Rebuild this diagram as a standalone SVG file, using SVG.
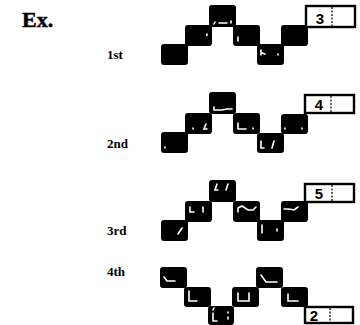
<svg xmlns="http://www.w3.org/2000/svg" width="360" height="325" viewBox="0 0 360 325">
<style>
.sq{fill:#000}
.mk{fill:none;stroke:#fff;stroke-width:1.6;stroke-linecap:round}
.box{fill:#fff;stroke:#000;stroke-width:2.4}
.div{stroke:#000;stroke-width:1.2;stroke-dasharray:2 1.5}
.num{font-family:"Liberation Sans",Arial,sans-serif;font-weight:bold;font-size:15px;text-anchor:middle;fill:#000}
.lbl{font-family:"Liberation Serif","Times New Roman",serif;font-weight:bold;font-size:13px;fill:#000}
.ex{font-family:"Liberation Serif","Times New Roman",serif;font-weight:bold;font-size:22px;fill:#000;stroke:#000;stroke-width:0.5}
</style>
<rect width="360" height="325" fill="#fff"/>
<text class="ex" x="22" y="27">Ex.</text>
<text class="lbl" x="107" y="59">1st</text>
<text class="lbl" x="107" y="148">2nd</text>
<text class="lbl" x="107" y="235">3rd</text>
<text class="lbl" x="107" y="276">4th</text>

<!-- Row 1 -->
<g id="r1">
<g id="r1s1"><rect class="sq" x="161" y="44" width="27" height="21" rx="3"/></g>
<g id="r1s2"><rect class="sq" x="185" y="25" width="27" height="21" rx="3"/><path class="mk" d="M207 34v1.5"/></g>
<g id="r1s3"><rect class="sq" x="209" y="5" width="27" height="22" rx="3"/><path class="mk" d="M215 22l-1 2M219 23h8M231 21v2"/></g>
<g id="r1s4"><rect class="sq" x="233" y="25" width="27" height="21" rx="3"/><path class="mk" d="M238 37v4"/></g>
<g id="r1s5"><rect class="sq" x="257" y="44" width="27" height="21" rx="3"/><path class="mk" d="M261 50v5M262 53l3 1M278 54v1"/></g>
<g id="r1s6"><rect class="sq" x="281" y="25" width="27" height="21" rx="3"/></g>
<g id="r1box"><rect class="box" x="306" y="6" width="49" height="21"/><line class="div" x1="332" y1="7" x2="332" y2="26"/><text class="num" x="320" y="24">3</text></g>
</g>

<!-- Row 2 -->
<g id="r2">
<g id="r2s1"><rect class="sq" x="161" y="132" width="27" height="21" rx="3"/><path class="mk" d="M165 147v1"/></g>
<g id="r2s2"><rect class="sq" x="185" y="113" width="27" height="21" rx="3"/><path class="mk" d="M193 128v1M206 124l-2 5h3"/></g>
<g id="r2s3"><rect class="sq" x="209" y="92" width="27" height="22" rx="3"/><path class="mk" d="M214 107v3h8l5 -1h5" stroke-width="2.5"/></g>
<g id="r2s4"><rect class="sq" x="233" y="113" width="27" height="21" rx="3"/><path class="mk" d="M238 123v6h8M253 128v1" stroke-width="2"/></g>
<g id="r2s5"><rect class="sq" x="257" y="133" width="27" height="20" rx="3"/><path class="mk" d="M261 141v7h3M274 141l-2 7"/></g>
<g id="r2s6"><rect class="sq" x="281" y="114" width="27" height="20" rx="3"/><path class="mk" d="M285 128v1M302 128v1"/></g>
<g id="r2box"><rect class="box" x="305" y="95" width="49" height="18"/><line class="div" x1="331" y1="96" x2="331" y2="112"/><text class="num" x="319" y="110">4</text></g>
</g>

<!-- Row 3 -->
<g id="r3">
<g id="r3s1"><rect class="sq" x="161" y="220" width="27" height="21" rx="3"/><path class="mk" d="M182 228l-4 6"/></g>
<g id="r3s2"><rect class="sq" x="185" y="201" width="27" height="21" rx="3"/><path class="mk" d="M190 207v5h4M203 207v5"/></g>
<g id="r3s3"><rect class="sq" x="209" y="180" width="27" height="22" rx="3"/><path class="mk" d="M217 184l-2 6h3M228 184l-2 6"/></g>
<g id="r3s4"><rect class="sq" x="233" y="201" width="27" height="21" rx="3"/><path class="mk" d="M238 212v-4l4 -2l6 4h5l3 -3" stroke-width="2"/></g>
<g id="r3s5"><rect class="sq" x="257" y="220" width="27" height="21" rx="3"/><path class="mk" d="M262 225v8M277 229v2" stroke-width="2"/></g>
<g id="r3s6"><rect class="sq" x="281" y="201" width="27" height="21" rx="3"/><path class="mk" d="M284 209h5l5 1l4 -3"/></g>
<g id="r3box"><rect class="box" x="305" y="184" width="49" height="18"/><line class="div" x1="332" y1="185" x2="332" y2="201"/><text class="num" x="319" y="199">5</text></g>
</g>

<!-- Row 4 -->
<g id="r4">
<g id="r4s1"><rect class="sq" x="160" y="267" width="27" height="21" rx="3"/><path class="mk" d="M164 277l3 4h8" stroke-width="2"/></g>
<g id="r4s2"><rect class="sq" x="184" y="287" width="27" height="20" rx="3"/><path class="mk" d="M189 291v10h8" stroke-width="2"/></g>
<g id="r4s3"><rect class="sq" x="208" y="306" width="26" height="19" rx="3"/><path class="mk" d="M214 308l-1 2M213 313v8h4M228 312v1M228 317v2"/></g>
<g id="r4s4"><rect class="sq" x="232" y="287" width="27" height="20" rx="3"/><path class="mk" d="M238 293v8h11v-8" stroke-width="2"/></g>
<g id="r4s5"><rect class="sq" x="256" y="267" width="27" height="21" rx="3"/><path class="mk" d="M261 275l5 7h11" stroke-width="2"/></g>
<g id="r4s6"><rect class="sq" x="281" y="287" width="27" height="20" rx="3"/><path class="mk" d="M288 294v7h10" stroke-width="2"/></g>
<g id="r4box"><rect class="box" x="305" y="307" width="48" height="16"/><line class="div" x1="330" y1="308" x2="330" y2="322"/><text class="num" x="314" y="321">2</text></g>
</g>
</svg>
